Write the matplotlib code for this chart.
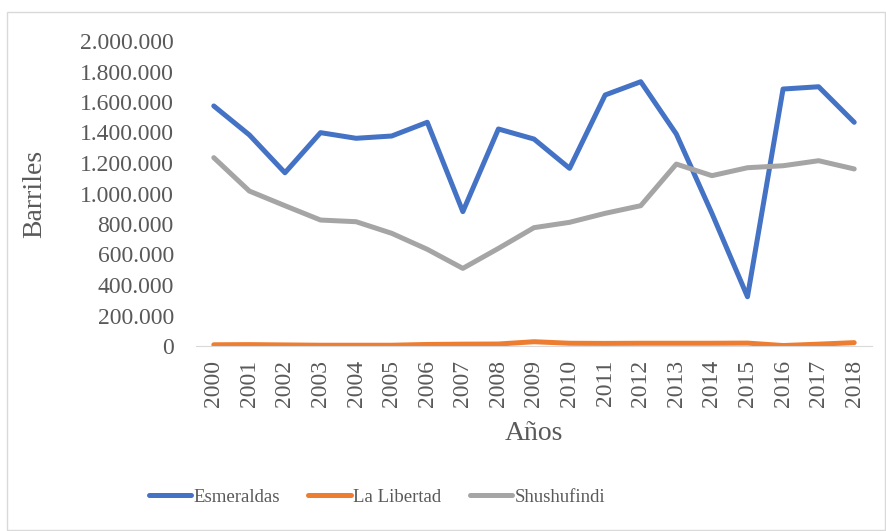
import numpy as np
import matplotlib.pyplot as plt
from matplotlib.patches import Rectangle
from matplotlib.ticker import FuncFormatter

# datos
years = [str(y) for y in range(2000, 2019)]
esmeraldas = [1574000, 1384000, 1136000, 1399000, 1362000, 1377000, 1467000, 881000,
              1423000, 1357000, 1165000, 1646000, 1733000, 1390000, 870000, 323000,
              1685000, 1700000, 1467000]
la_libertad = [8000, 9000, 7000, 5000, 5000, 5000, 10000, 12000, 13000, 28000,
               18000, 17000, 18000, 18000, 18000, 19000, 3000, 12000, 22000]
shushufindi = [1235000, 1016000, 920000, 826000, 815000, 739000, 634000, 509000,
               640000, 776000, 811000, 870000, 920000, 1193000, 1117000, 1169000,
               1182000, 1215000, 1161000]

plt.rcParams['font.family'] = ['Liberation Serif', 'DejaVu Serif']
gray = '#595959'

fig = plt.figure(figsize=(8.86, 5.31), dpi=100)
ax = fig.add_axes([196/886, 1-346/531, 676/886, 305/531])

x = np.arange(len(years))
ax.plot(x, esmeraldas, color='#4472C4', lw=3.6, solid_capstyle='round', label='Esmeraldas')
ax.plot(x, la_libertad, color='#ED7D31', lw=3.6, solid_capstyle='round', label='La Libertad')
ax.plot(x, shushufindi, color='#A5A5A5', lw=3.6, solid_capstyle='round', label='Shushufindi')

ax.set_xlim(-0.5, len(years) - 0.5)
ax.set_ylim(0, 2000000)
ax.set_yticks(np.arange(0, 2000001, 200000))
ax.yaxis.set_major_formatter(FuncFormatter(lambda v, p: f'{int(v):,}'.replace(',', '.')))
ax.set_xticks(x)
ax.set_xticklabels(years, rotation=90)

for s in ['top', 'right', 'left']:
    ax.spines[s].set_visible(False)
ax.spines['bottom'].set_color('#D9D9D9')
ax.tick_params(axis='both', length=0, labelsize=17, colors=gray)
ax.tick_params(axis='y', pad=16)
ax.tick_params(axis='x', pad=10)

ax.set_xlabel('Años', fontsize=20, color=gray)
ax.set_ylabel('Barriles', fontsize=20, color=gray)
ax.xaxis.set_label_coords(0.5, -(433-346)/305, transform=ax.transAxes)
ax.yaxis.set_label_coords(-(196-35)/676, 0.5)
ax.xaxis.label.set_va('center')
ax.yaxis.label.set_va('center')

ax.legend(loc='center', bbox_to_anchor=(377/886, 1-497/531), bbox_transform=fig.transFigure,
          ncol=3, frameon=False, fontsize=13.5, labelcolor=gray, handlelength=2.25,
          handletextpad=0.15, columnspacing=1.5)

fig.patches.append(Rectangle((7/886, 1/531), 878/886, 518/531, transform=fig.transFigure,
                             fill=False, edgecolor='#D9D9D9', lw=1))

fig.savefig('out.png', dpi=100)
